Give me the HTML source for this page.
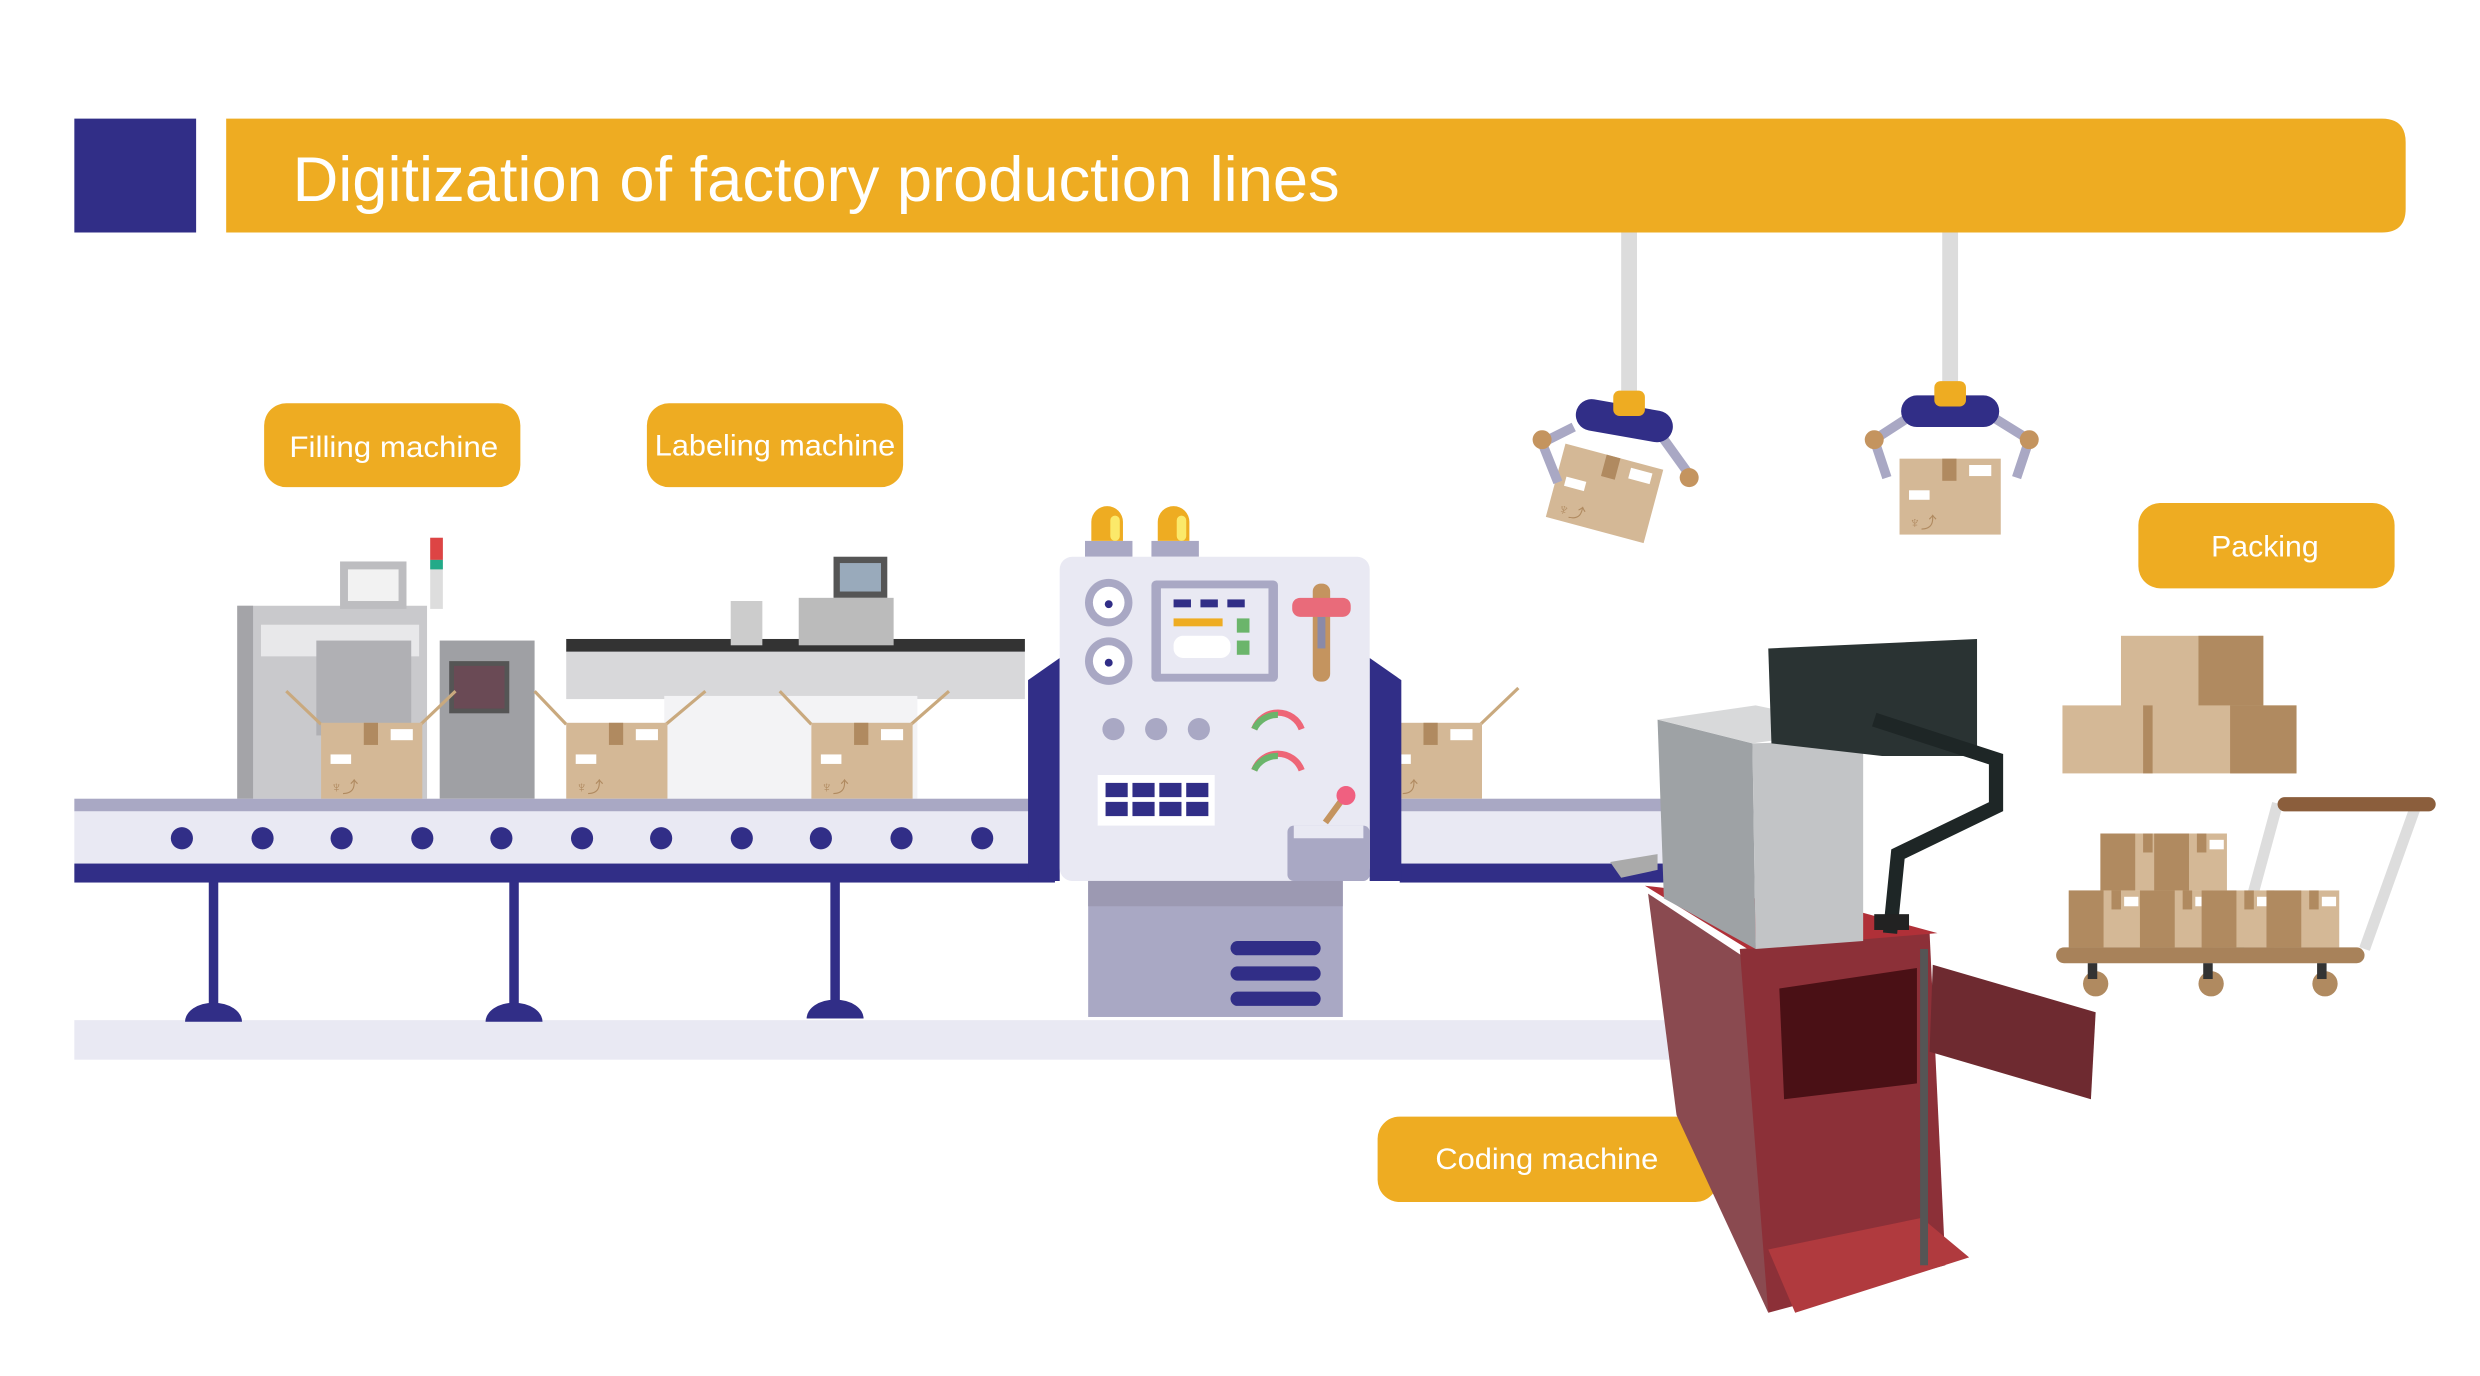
<!DOCTYPE html>
<html><head><meta charset="utf-8"><style>
html,body{margin:0;padding:0;background:#fff;width:2480px;height:1376px;overflow:hidden}
svg{display:block}
text{font-family:"Liberation Sans",sans-serif;fill:#fff}
</style></head><body>
<svg width="2480" height="1376" viewBox="0 0 1568 870" preserveAspectRatio="none" xmlns="http://www.w3.org/2000/svg">
<defs>
<g id="box">
<rect x="0" y="0" width="64" height="48" fill="#d4b896"/>
<rect x="27" y="0" width="9" height="14" fill="#b08a60"/>
<rect x="44" y="4" width="14" height="7" fill="#fff"/>
<rect x="6" y="20" width="13" height="6" fill="#fff"/>
<text x="6" y="44" font-size="10" style="fill:#b08a60">♆⤴</text>
</g>
<g id="pbox"><rect width="46" height="36" fill="#d4b896"/><rect width="22" height="36" fill="#b08a60"/><rect x="27" width="6" height="12" fill="#b08a60"/><rect x="35" y="4" width="9" height="6" fill="#fff"/></g>
</defs>

<!-- header -->
<rect x="47" y="75" width="77" height="72" fill="#312e87"/>
<path d="M143 75 H1506 Q1521 75 1521 90 V132 Q1521 147 1506 147 H143 Z" fill="#eeac22"/>
<text x="185" y="127" font-size="40" textLength="662" lengthAdjust="spacingAndGlyphs">Digitization of factory production lines</text>

<!-- labels -->
<rect x="167" y="255" width="162" height="53" rx="14" fill="#eeac22"/>
<text x="249" y="289" font-size="19" text-anchor="middle" textLength="132" lengthAdjust="spacingAndGlyphs">Filling machine</text>
<rect x="409" y="255" width="162" height="53" rx="14" fill="#eeac22"/>
<text x="490" y="288" font-size="19" text-anchor="middle" textLength="152" lengthAdjust="spacingAndGlyphs">Labeling machine</text>
<rect x="1352" y="318" width="162" height="54" rx="14" fill="#eeac22"/>
<text x="1432" y="352" font-size="19" text-anchor="middle" textLength="68" lengthAdjust="spacingAndGlyphs">Packing</text>
<rect x="871" y="706" width="215" height="54" rx="14" fill="#eeac22"/>
<text x="978" y="739" font-size="19" text-anchor="middle" textLength="141" lengthAdjust="spacingAndGlyphs">Coding machine</text>

<!-- floor -->
<rect x="47" y="645" width="1010" height="25" fill="#e9e9f3"/>

<!-- filling machine -->
<rect x="150" y="383" width="120" height="122" fill="#c9c9cc"/>
<rect x="150" y="383" width="10" height="122" fill="#a4a4a8"/>
<rect x="165" y="395" width="100" height="20" fill="#e8e8ea"/>
<rect x="215" y="355" width="42" height="30" fill="#bdbdc0"/>
<rect x="220" y="360" width="32" height="20" fill="#f2f2f2"/>
<rect x="272" y="340" width="8" height="45" fill="#ddd"/><rect x="272" y="340" width="8" height="14" fill="#d44"/><rect x="272" y="354" width="8" height="6" fill="#2a8"/>
<rect x="278" y="405" width="60" height="100" fill="#9fa0a4"/>
<rect x="284" y="418" width="38" height="33" fill="#555"/><rect x="287" y="421" width="32" height="27" fill="#6a4a55"/>
<rect x="200" y="405" width="60" height="60" fill="#b0b0b4"/>
<!-- labeling machine -->
<rect x="358" y="410" width="290" height="32" fill="#d8d8da"/>
<rect x="358" y="404" width="290" height="8" fill="#333"/>
<rect x="420" y="440" width="160" height="65" fill="#f3f3f5"/>
<rect x="527" y="352" width="34" height="26" fill="#555"/><rect x="531" y="356" width="26" height="18" fill="#9ab"/>
<rect x="505" y="378" width="60" height="30" fill="#bbb"/>
<rect x="462" y="380" width="20" height="28" fill="#ccc"/>
<!-- boxes on conveyor -->
<line x1="181" y1="437" x2="203" y2="458" stroke="#c9a97e" stroke-width="2"/><line x1="266" y1="458" x2="288" y2="437" stroke="#c9a97e" stroke-width="2"/>
<use href="#box" x="203" y="457"/>
<line x1="338" y1="437" x2="358" y2="458" stroke="#c9a97e" stroke-width="2"/><line x1="421" y1="458" x2="446" y2="437" stroke="#c9a97e" stroke-width="2"/>
<use href="#box" x="358" y="457"/>
<line x1="493" y1="437" x2="513" y2="458" stroke="#c9a97e" stroke-width="2"/><line x1="576" y1="458" x2="600" y2="437" stroke="#c9a97e" stroke-width="2"/>
<use href="#box" x="513" y="457"/>

<!-- conveyor -->
<rect x="47" y="505" width="605" height="8" fill="#a9a8c4"/>
<rect x="47" y="513" width="605" height="33" fill="#e9e9f3"/>
<rect x="47" y="546" width="620" height="12" fill="#312e87"/>
<g fill="#312e87">
<circle cx="115" cy="530" r="7"/><circle cx="166" cy="530" r="7"/><circle cx="216" cy="530" r="7"/><circle cx="267" cy="530" r="7"/><circle cx="317" cy="530" r="7"/><circle cx="368" cy="530" r="7"/><circle cx="418" cy="530" r="7"/><circle cx="469" cy="530" r="7"/><circle cx="519" cy="530" r="7"/><circle cx="570" cy="530" r="7"/><circle cx="621" cy="530" r="7"/>
<rect x="132" y="557" width="6" height="80"/><path d="M117 646 A18 12 0 0 1 153 646 Z"/>
<rect x="322" y="557" width="6" height="80"/><path d="M307 646 A18 12 0 0 1 343 646 Z"/>
<rect x="525" y="557" width="6" height="80"/><path d="M510 644 A18 12 0 0 1 546 644 Z"/>
</g>

<!-- right conveyor -->
<line x1="936" y1="458" x2="960" y2="435" stroke="#c9a97e" stroke-width="2"/>
<use href="#box" x="873" y="457"/>
<rect x="885" y="505" width="175" height="8" fill="#a9a8c4"/>
<rect x="885" y="513" width="175" height="33" fill="#e9e9f3"/>
<rect x="885" y="546" width="175" height="12" fill="#312e87"/>

<!-- control machine -->
<path d="M650 430 L670 416 V557 H650 Z" fill="#312e87"/>
<path d="M866 416 L886 430 V557 H866 Z" fill="#312e87"/>
<rect x="686" y="342" width="30" height="10" fill="#a9a8c4"/><rect x="728" y="342" width="30" height="10" fill="#a9a8c4"/>
<path d="M690 342 V330 A10 10 0 0 1 710 330 V342Z" fill="#eeac22"/><rect x="702" y="326" width="6" height="16" rx="3" fill="#fbe96a"/>
<path d="M732 342 V330 A10 10 0 0 1 752 330 V342Z" fill="#eeac22"/><rect x="744" y="326" width="6" height="16" rx="3" fill="#fbe96a"/>
<rect x="670" y="352" width="196" height="205" rx="8" fill="#e9e9f3"/>
<circle cx="701" cy="381" r="15" fill="#a9a8c4"/><circle cx="701" cy="381" r="10" fill="#fff"/><circle cx="701" cy="382" r="2.5" fill="#312e87"/>
<circle cx="701" cy="418" r="15" fill="#a9a8c4"/><circle cx="701" cy="418" r="10" fill="#fff"/><circle cx="701" cy="419" r="2.5" fill="#312e87"/>
<rect x="728" y="367" width="80" height="64" rx="3" fill="#a9a8c4"/><rect x="734" y="372" width="68" height="54" fill="#e9e9f3"/>
<rect x="742" y="379" width="11" height="5" fill="#312e87"/><rect x="759" y="379" width="11" height="5" fill="#312e87"/><rect x="776" y="379" width="11" height="5" fill="#312e87"/>
<rect x="742" y="391" width="31" height="5" fill="#eeac22"/><rect x="782" y="391" width="8" height="9" fill="#6bb56b"/><rect x="782" y="405" width="8" height="9" fill="#6bb56b"/>
<rect x="742" y="402" width="36" height="14" rx="6" fill="#fff"/>
<rect x="830" y="369" width="11" height="62" rx="5" fill="#c4945f"/><rect x="833" y="390" width="5" height="20" fill="#8a8aa8"/>
<rect x="817" y="378" width="37" height="12" rx="5" fill="#e96b7a"/>
<circle cx="704" cy="461" r="7" fill="#a9a8c4"/><circle cx="731" cy="461" r="7" fill="#a9a8c4"/><circle cx="758" cy="461" r="7" fill="#a9a8c4"/>
<path d="M793 461 A16 16 0 0 1 823 461" stroke="#e67" stroke-width="4" fill="none"/><path d="M793 461 A16 16 0 0 1 808 452" stroke="#6bb56b" stroke-width="4" fill="none"/>
<path d="M793 487 A16 16 0 0 1 823 487" stroke="#e67" stroke-width="4" fill="none"/><path d="M793 487 A16 16 0 0 1 808 478" stroke="#6bb56b" stroke-width="4" fill="none"/>
<rect x="694" y="490" width="74" height="32" fill="#fff"/>
<g fill="#312e87"><rect x="699" y="495" width="14" height="9"/><rect x="716" y="495" width="14" height="9"/><rect x="733" y="495" width="14" height="9"/><rect x="750" y="495" width="14" height="9"/>
<rect x="699" y="507" width="14" height="9"/><rect x="716" y="507" width="14" height="9"/><rect x="733" y="507" width="14" height="9"/><rect x="750" y="507" width="14" height="9"/></g>
<rect x="814" y="522" width="52" height="35" rx="4" fill="#a9a8c4"/><rect x="818" y="522" width="44" height="8" fill="#e9e9f3"/>
<line x1="838" y1="520" x2="849" y2="505" stroke="#c4945f" stroke-width="4"/><circle cx="851" cy="503" r="6" fill="#f06080"/>
<rect x="688" y="557" width="161" height="86" fill="#a9a8c4"/><rect x="688" y="557" width="161" height="16" fill="#9c99b2"/>
<rect x="778" y="595" width="57" height="9" rx="4.5" fill="#312e87"/><rect x="778" y="611" width="57" height="9" rx="4.5" fill="#312e87"/><rect x="778" y="627" width="57" height="9" rx="4.5" fill="#312e87"/>

<!-- robot arms -->
<rect x="1025" y="147" width="10" height="100" fill="#dcdcdc"/>
<rect x="1228" y="147" width="10" height="100" fill="#dcdcdc"/>
<g transform="rotate(15 1015 310)"><use href="#box" x="983" y="288"/></g>
<path d="M995 270 L975 280 L985 305" stroke="#a9a8c4" stroke-width="6" fill="none"/><path d="M1050 275 L1068 300" stroke="#a9a8c4" stroke-width="6" fill="none"/>
<circle cx="975" cy="278" r="6" fill="#c4945f"/><circle cx="1068" cy="302" r="6" fill="#c4945f"/>
<rect x="996" y="256" width="62" height="20" rx="10" fill="#312e87" transform="rotate(10 1027 266)"/>
<rect x="1020" y="247" width="20" height="16" rx="4" fill="#eeac22"/>
<use href="#box" x="1201" y="290"/>
<path d="M1205 265 L1185 278 L1193 302" stroke="#a9a8c4" stroke-width="6" fill="none"/><path d="M1262 265 L1283 278 L1275 302" stroke="#a9a8c4" stroke-width="6" fill="none"/>
<circle cx="1185" cy="278" r="6" fill="#c4945f"/><circle cx="1283" cy="278" r="6" fill="#c4945f"/>
<rect x="1202" y="250" width="62" height="20" rx="10" fill="#312e87"/>
<rect x="1223" y="241" width="20" height="16" rx="4" fill="#eeac22"/>

<!-- packing boxes -->
<rect x="1341" y="402" width="90" height="45" fill="#d4b896"/><rect x="1390" y="402" width="41" height="45" fill="#b08a60"/>
<rect x="1304" y="446" width="148" height="43" fill="#d4b896"/><rect x="1410" y="446" width="42" height="43" fill="#b08a60"/><rect x="1355" y="446" width="6" height="43" fill="#b08a60"/>
<!-- cart -->
<path d="M1440 508 L1415 600" stroke="#ddd" stroke-width="7"/><path d="M1528 508 L1495 600" stroke="#ddd" stroke-width="7"/>
<rect x="1440" y="504" width="100" height="9" rx="4.5" fill="#8b5e3c"/>
<use href="#pbox" x="1328" y="527"/><use href="#pbox" x="1362" y="527"/>
<use href="#pbox" x="1308" y="563"/><use href="#pbox" x="1353" y="563"/><use href="#pbox" x="1392" y="563"/><use href="#pbox" x="1433" y="563"/>
<rect x="1300" y="599" width="195" height="10" rx="5" fill="#a8825a"/>
<g fill="#b08a60"><circle cx="1325" cy="622" r="8"/><circle cx="1398" cy="622" r="8"/><circle cx="1470" cy="622" r="8"/></g>
<g fill="#333"><rect x="1320" y="609" width="6" height="10"/><rect x="1393" y="609" width="6" height="10"/><rect x="1465" y="609" width="6" height="10"/></g>

<!-- coding machine -->
<path d="M1042 565 L1110 610 L1118 830 L1060 705 Z" fill="#8a4a50"/>
<path d="M1100 600 L1220 590 L1230 800 L1118 830 Z" fill="#8c3038"/>
<path d="M1125 625 L1212 612 L1212 685 L1128 695 Z" fill="#4a1015"/>
<path d="M1118 790 L1215 770 L1245 795 L1135 830 Z" fill="#b03a3e"/>
<path d="M1222 610 L1325 640 L1322 695 L1220 665 Z" fill="#6e2a30"/>
<path d="M1040 560 L1105 600 L1225 590 L1170 575 Z" fill="#b03038"/>
<rect x="1214" y="600" width="5" height="200" fill="#555"/>
<path d="M1048 455 L1108 470 L1110 600 L1052 568 Z" fill="#9ea2a5"/>
<path d="M1108 470 L1178 468 L1178 595 L1110 600 Z" fill="#c2c4c6"/>
<path d="M1048 455 L1110 446 L1178 460 L1108 470 Z" fill="#d8d9da"/>
<path d="M1118 410 L1250 404 L1250 478 L1190 478 L1120 470 Z" fill="#2a3333"/>
<path d="M1185 455 L1262 480 L1262 510 L1200 540 L1195 590" stroke="#1e2626" stroke-width="9" fill="none"/>
<rect x="1185" y="578" width="22" height="10" fill="#222"/>
<path d="M1018 545 L1048 540 L1048 550 L1025 555 Z" fill="#aaa"/>
</svg>
</body></html>
